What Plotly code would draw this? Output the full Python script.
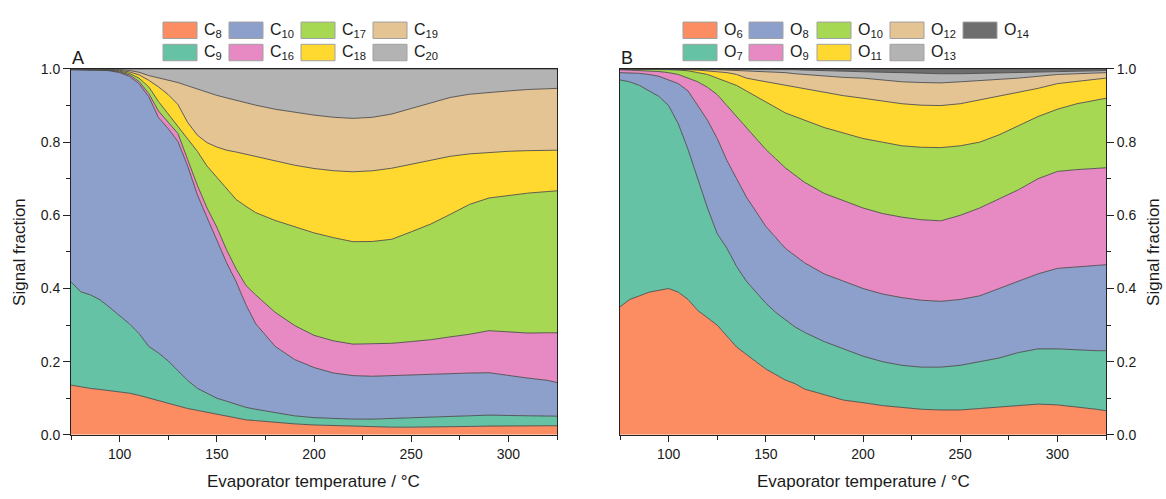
import plotly.graph_objects as go

W, H = 1166, 499

# ---------------- data ----------------
T = [75, 80, 85, 90, 95, 100, 105, 110, 115, 120, 125, 130, 135, 140, 145, 150, 155, 160, 165, 170,
     180, 190, 200, 210, 220, 230, 240, 250, 260, 270, 280, 290, 300, 310, 320, 325]

# Panel A (carbon number)
C8 = [0.136, 0.131, 0.127, 0.124, 0.121, 0.118, 0.114, 0.108, 0.101, 0.093, 0.085, 0.078, 0.072, 0.067, 0.062, 0.056, 0.051, 0.046, 0.041, 0.039,
      0.034, 0.030, 0.027, 0.025, 0.023, 0.022, 0.021, 0.021, 0.021, 0.022, 0.023, 0.024, 0.024, 0.025, 0.025, 0.025]
C9 = [0.282, 0.260, 0.256, 0.245, 0.227, 0.207, 0.190, 0.169, 0.141, 0.131, 0.117, 0.097, 0.077, 0.060, 0.052, 0.044, 0.041, 0.037, 0.034, 0.031,
      0.027, 0.022, 0.020, 0.020, 0.020, 0.021, 0.024, 0.026, 0.027, 0.028, 0.029, 0.030, 0.029, 0.027, 0.026, 0.026]
C10 = [0.580, 0.607, 0.615, 0.628, 0.648, 0.666, 0.677, 0.683, 0.683, 0.644, 0.635, 0.626, 0.586, 0.529, 0.481, 0.432, 0.379, 0.335, 0.280, 0.234,
       0.181, 0.154, 0.137, 0.124, 0.119, 0.117, 0.117, 0.117, 0.118, 0.119, 0.117, 0.116, 0.109, 0.103, 0.098, 0.092]
C16 = [0.000, 0.000, 0.001, 0.000, 0.001, 0.002, 0.004, 0.006, 0.009, 0.018, 0.018, 0.022, 0.018, 0.026, 0.026, 0.035, 0.035, 0.035, 0.053, 0.079,
       0.093, 0.093, 0.088, 0.088, 0.086, 0.088, 0.088, 0.091, 0.094, 0.099, 0.106, 0.115, 0.119, 0.123, 0.130, 0.136]
C17 = [0.001, 0.001, 0.000, 0.001, 0.001, 0.002, 0.004, 0.009, 0.018, 0.026, 0.022, 0.022, 0.057, 0.093, 0.115, 0.137, 0.168, 0.190, 0.216, 0.225,
       0.251, 0.269, 0.280, 0.282, 0.280, 0.280, 0.284, 0.300, 0.316, 0.335, 0.355, 0.363, 0.373, 0.382, 0.386, 0.388]
C18 = [0.000, 0.000, 0.001, 0.001, 0.001, 0.002, 0.004, 0.009, 0.018, 0.040, 0.053, 0.057, 0.044, 0.044, 0.064, 0.082, 0.104, 0.130, 0.142, 0.153,
       0.163, 0.169, 0.176, 0.183, 0.191, 0.193, 0.194, 0.185, 0.175, 0.159, 0.138, 0.125, 0.121, 0.116, 0.113, 0.111]
C19 = [0.001, 0.001, 0.001, 0.001, 0.001, 0.002, 0.004, 0.007, 0.013, 0.025, 0.041, 0.060, 0.100, 0.126, 0.138, 0.141, 0.143, 0.141, 0.140, 0.141,
       0.141, 0.144, 0.146, 0.146, 0.146, 0.146, 0.148, 0.152, 0.156, 0.161, 0.163, 0.164, 0.165, 0.167, 0.168, 0.169]
C20 = [0.000, 0.000, 0.000, 0.000, 0.001, 0.002, 0.004, 0.009, 0.018, 0.024, 0.029, 0.037, 0.046, 0.055, 0.064, 0.072, 0.079, 0.086, 0.093, 0.099,
       0.110, 0.119, 0.126, 0.132, 0.135, 0.132, 0.123, 0.108, 0.093, 0.078, 0.069, 0.064, 0.060, 0.056, 0.054, 0.053]

# Panel B (oxygen number)
O6 = [0.350, 0.370, 0.380, 0.390, 0.395, 0.400, 0.390, 0.370, 0.340, 0.320, 0.300, 0.270, 0.240, 0.220, 0.200, 0.180, 0.165, 0.150, 0.140, 0.125,
      0.110, 0.095, 0.088, 0.080, 0.075, 0.070, 0.068, 0.068, 0.072, 0.076, 0.080, 0.084, 0.082, 0.077, 0.070, 0.066]
O7 = [0.620, 0.595, 0.575, 0.550, 0.530, 0.500, 0.460, 0.410, 0.360, 0.300, 0.250, 0.240, 0.220, 0.200, 0.190, 0.180, 0.170, 0.165, 0.155, 0.155,
      0.145, 0.140, 0.127, 0.120, 0.115, 0.115, 0.117, 0.122, 0.128, 0.134, 0.145, 0.151, 0.153, 0.155, 0.160, 0.164]
O8 = [0.020, 0.025, 0.033, 0.045, 0.055, 0.070, 0.110, 0.160, 0.200, 0.240, 0.260, 0.240, 0.240, 0.230, 0.220, 0.210, 0.205, 0.195, 0.195, 0.190,
      0.185, 0.185, 0.185, 0.185, 0.185, 0.183, 0.180, 0.180, 0.180, 0.190, 0.195, 0.205, 0.220, 0.228, 0.233, 0.235]
O9 = [0.008, 0.007, 0.008, 0.010, 0.013, 0.020, 0.025, 0.035, 0.065, 0.090, 0.120, 0.150, 0.170, 0.190, 0.200, 0.210, 0.215, 0.220, 0.220, 0.220,
      0.220, 0.220, 0.220, 0.220, 0.220, 0.220, 0.220, 0.230, 0.240, 0.245, 0.250, 0.260, 0.265, 0.265, 0.265, 0.265]
O10 = [0.002, 0.003, 0.003, 0.004, 0.006, 0.008, 0.012, 0.020, 0.025, 0.035, 0.045, 0.065, 0.085, 0.100, 0.115, 0.130, 0.140, 0.150, 0.160, 0.170,
       0.180, 0.185, 0.190, 0.195, 0.195, 0.198, 0.200, 0.190, 0.180, 0.175, 0.175, 0.170, 0.170, 0.180, 0.187, 0.190]
O11 = [0.000, 0.000, 0.001, 0.001, 0.001, 0.002, 0.002, 0.003, 0.007, 0.010, 0.018, 0.025, 0.030, 0.035, 0.045, 0.055, 0.065, 0.075, 0.080, 0.085,
       0.095, 0.102, 0.110, 0.112, 0.115, 0.115, 0.115, 0.115, 0.115, 0.105, 0.090, 0.077, 0.070, 0.062, 0.057, 0.055]
O12 = [0.000, 0.000, 0.000, 0.000, 0.000, 0.000, 0.001, 0.002, 0.003, 0.004, 0.005, 0.007, 0.011, 0.020, 0.023, 0.027, 0.031, 0.035, 0.037, 0.040,
       0.045, 0.050, 0.055, 0.058, 0.060, 0.062, 0.062, 0.060, 0.053, 0.047, 0.040, 0.033, 0.025, 0.020, 0.017, 0.015]
O13 = [0.000, 0.000, 0.000, 0.000, 0.000, 0.000, 0.000, 0.000, 0.000, 0.001, 0.002, 0.003, 0.004, 0.005, 0.006, 0.007, 0.008, 0.008, 0.011, 0.012,
       0.016, 0.018, 0.018, 0.021, 0.025, 0.025, 0.025, 0.022, 0.020, 0.016, 0.014, 0.010, 0.007, 0.007, 0.006, 0.006]
O14 = [0.000, 0.000, 0.000, 0.000, 0.000, 0.000, 0.000, 0.000, 0.000, 0.000, 0.000, 0.000, 0.000, 0.000, 0.001, 0.001, 0.001, 0.002, 0.002, 0.003,
       0.004, 0.005, 0.007, 0.009, 0.010, 0.012, 0.013, 0.013, 0.012, 0.012, 0.011, 0.010, 0.008, 0.006, 0.005, 0.004]

names_A = ["C<sub>8</sub>", "C<sub>9</sub>", "C<sub>10</sub>", "C<sub>16</sub>", "C<sub>17</sub>", "C<sub>18</sub>", "C<sub>19</sub>", "C<sub>20</sub>"]
series_A = [C8, C9, C10, C16, C17, C18, C19, C20]
names_B = ["O<sub>6</sub>", "O<sub>7</sub>", "O<sub>8</sub>", "O<sub>9</sub>", "O<sub>10</sub>", "O<sub>11</sub>", "O<sub>12</sub>", "O<sub>13</sub>", "O<sub>14</sub>"]
series_B = [O6, O7, O8, O9, O10, O11, O12, O13, O14]

x_ticks = [100, 150, 200, 250, 300]
y_ticks = [0.0, 0.2, 0.4, 0.6, 0.8, 1.0]

# ---------------- style ----------------
COLORS = ["#FC8D62", "#66C2A5", "#8DA0CB", "#E78AC3", "#A6D854", "#FFD92F", "#E5C494", "#B3B3B3", "#6E6E6E"]
EDGE = "rgba(70,70,70,0.85)"
FONT = "Liberation Sans, Arial, sans-serif"
TXT = "#1a1a1a"

fig = go.Figure()

for i, (nm, vals) in enumerate(zip(names_A, series_A)):
    fig.add_trace(go.Scatter(x=T, y=vals, name=nm, mode="lines", stackgroup="A",
                             groupnorm="fraction" if i == 0 else None,
                             line=dict(color=EDGE, width=1), fillcolor=COLORS[i],
                             xaxis="x", yaxis="y", showlegend=False))
for i, (nm, vals) in enumerate(zip(names_B, series_B)):
    fig.add_trace(go.Scatter(x=T, y=vals, name=nm, mode="lines", stackgroup="B",
                             groupnorm="fraction" if i == 0 else None,
                             line=dict(color=EDGE, width=1), fillcolor=COLORS[i],
                             xaxis="x2", yaxis="y2", showlegend=False))

def px(x):
    return x / W

def py(y):
    return 1 - y / H

ydom = [py(441), py(63)]
common_x = dict(range=[75, 325], tickvals=x_ticks, ticks="outside", ticklen=6, tickwidth=1,
                tickcolor="#222", showline=True, linecolor="#222", linewidth=1, mirror=True,
                showgrid=False, zeroline=False,
                minor=dict(ticks="outside", ticklen=4, tickvals=[75, 125, 175, 225, 275, 325], tickcolor="#222"),
                tickfont=dict(family=FONT, size=14, color=TXT))
common_y = dict(range=[0, 1], tickvals=y_ticks, tickformat=".1f", ticks="outside", ticklen=7, tickwidth=1,
                tickcolor="#222", showline=True, linecolor="#222", linewidth=1, mirror=True,
                showgrid=False, zeroline=False,
                minor=dict(ticks="outside", ticklen=4, tickvals=[0.1, 0.3, 0.5, 0.7, 0.9], tickcolor="#222"),
                tickfont=dict(family=FONT, size=14, color=TXT))

fig.update_layout(
    width=W, height=H, margin=dict(l=0, r=0, t=0, b=0),
    paper_bgcolor="white", plot_bgcolor="white",
    showlegend=False,
    xaxis=dict(domain=[px(71), px(557)], anchor="y", **common_x),
    yaxis=dict(domain=ydom, anchor="x", side="left", **common_y),
    xaxis2=dict(domain=[px(620), px(1106)], anchor="y2", **common_x),
    yaxis2=dict(domain=ydom, anchor="x2", side="right", **common_y),
)

ann = []
def text(x, y, s, size, angle=0, xanchor="center"):
    ann.append(dict(x=px(x), y=py(y), xref="paper", yref="paper", text=s, showarrow=False,
                    font=dict(family=FONT, size=size, color=TXT), textangle=angle,
                    xanchor=xanchor, yanchor="middle"))

text(314, 489, "Evaporator temperature / °C", 17)
text(863, 489, "Evaporator temperature / °C", 17)
text(20, 252, "Signal fraction", 17, angle=-90)
text(1154, 252, "Signal fraction", 17, angle=-90)
text(78, 52, "A", 18)
text(627, 52, "B", 18)

shapes = []
def legend(cols, rows, names, colors):
    k = 0
    for c in range(len(cols)):
        for r in range(len(rows)):
            if k >= len(names):
                break
            x0 = cols[c]
            yc = rows[r]
            shapes.append(dict(type="rect", xref="paper", yref="paper",
                               x0=px(x0), x1=px(x0 + 34), y0=py(yc + 8.5), y1=py(yc - 8.5),
                               fillcolor=colors[k], line=dict(color="#A0A0A0", width=1)))
            text(x0 + 39, yc, names[k], 16, xanchor="left")
            k += 1

legend([163, 229, 301, 373], [23, 46], names_A, COLORS[:8])
legend([683, 749, 817, 890, 963], [23, 46], names_B, COLORS[:9])

fig.update_layout(annotations=ann, shapes=shapes)
fig.write_html("out.html")
